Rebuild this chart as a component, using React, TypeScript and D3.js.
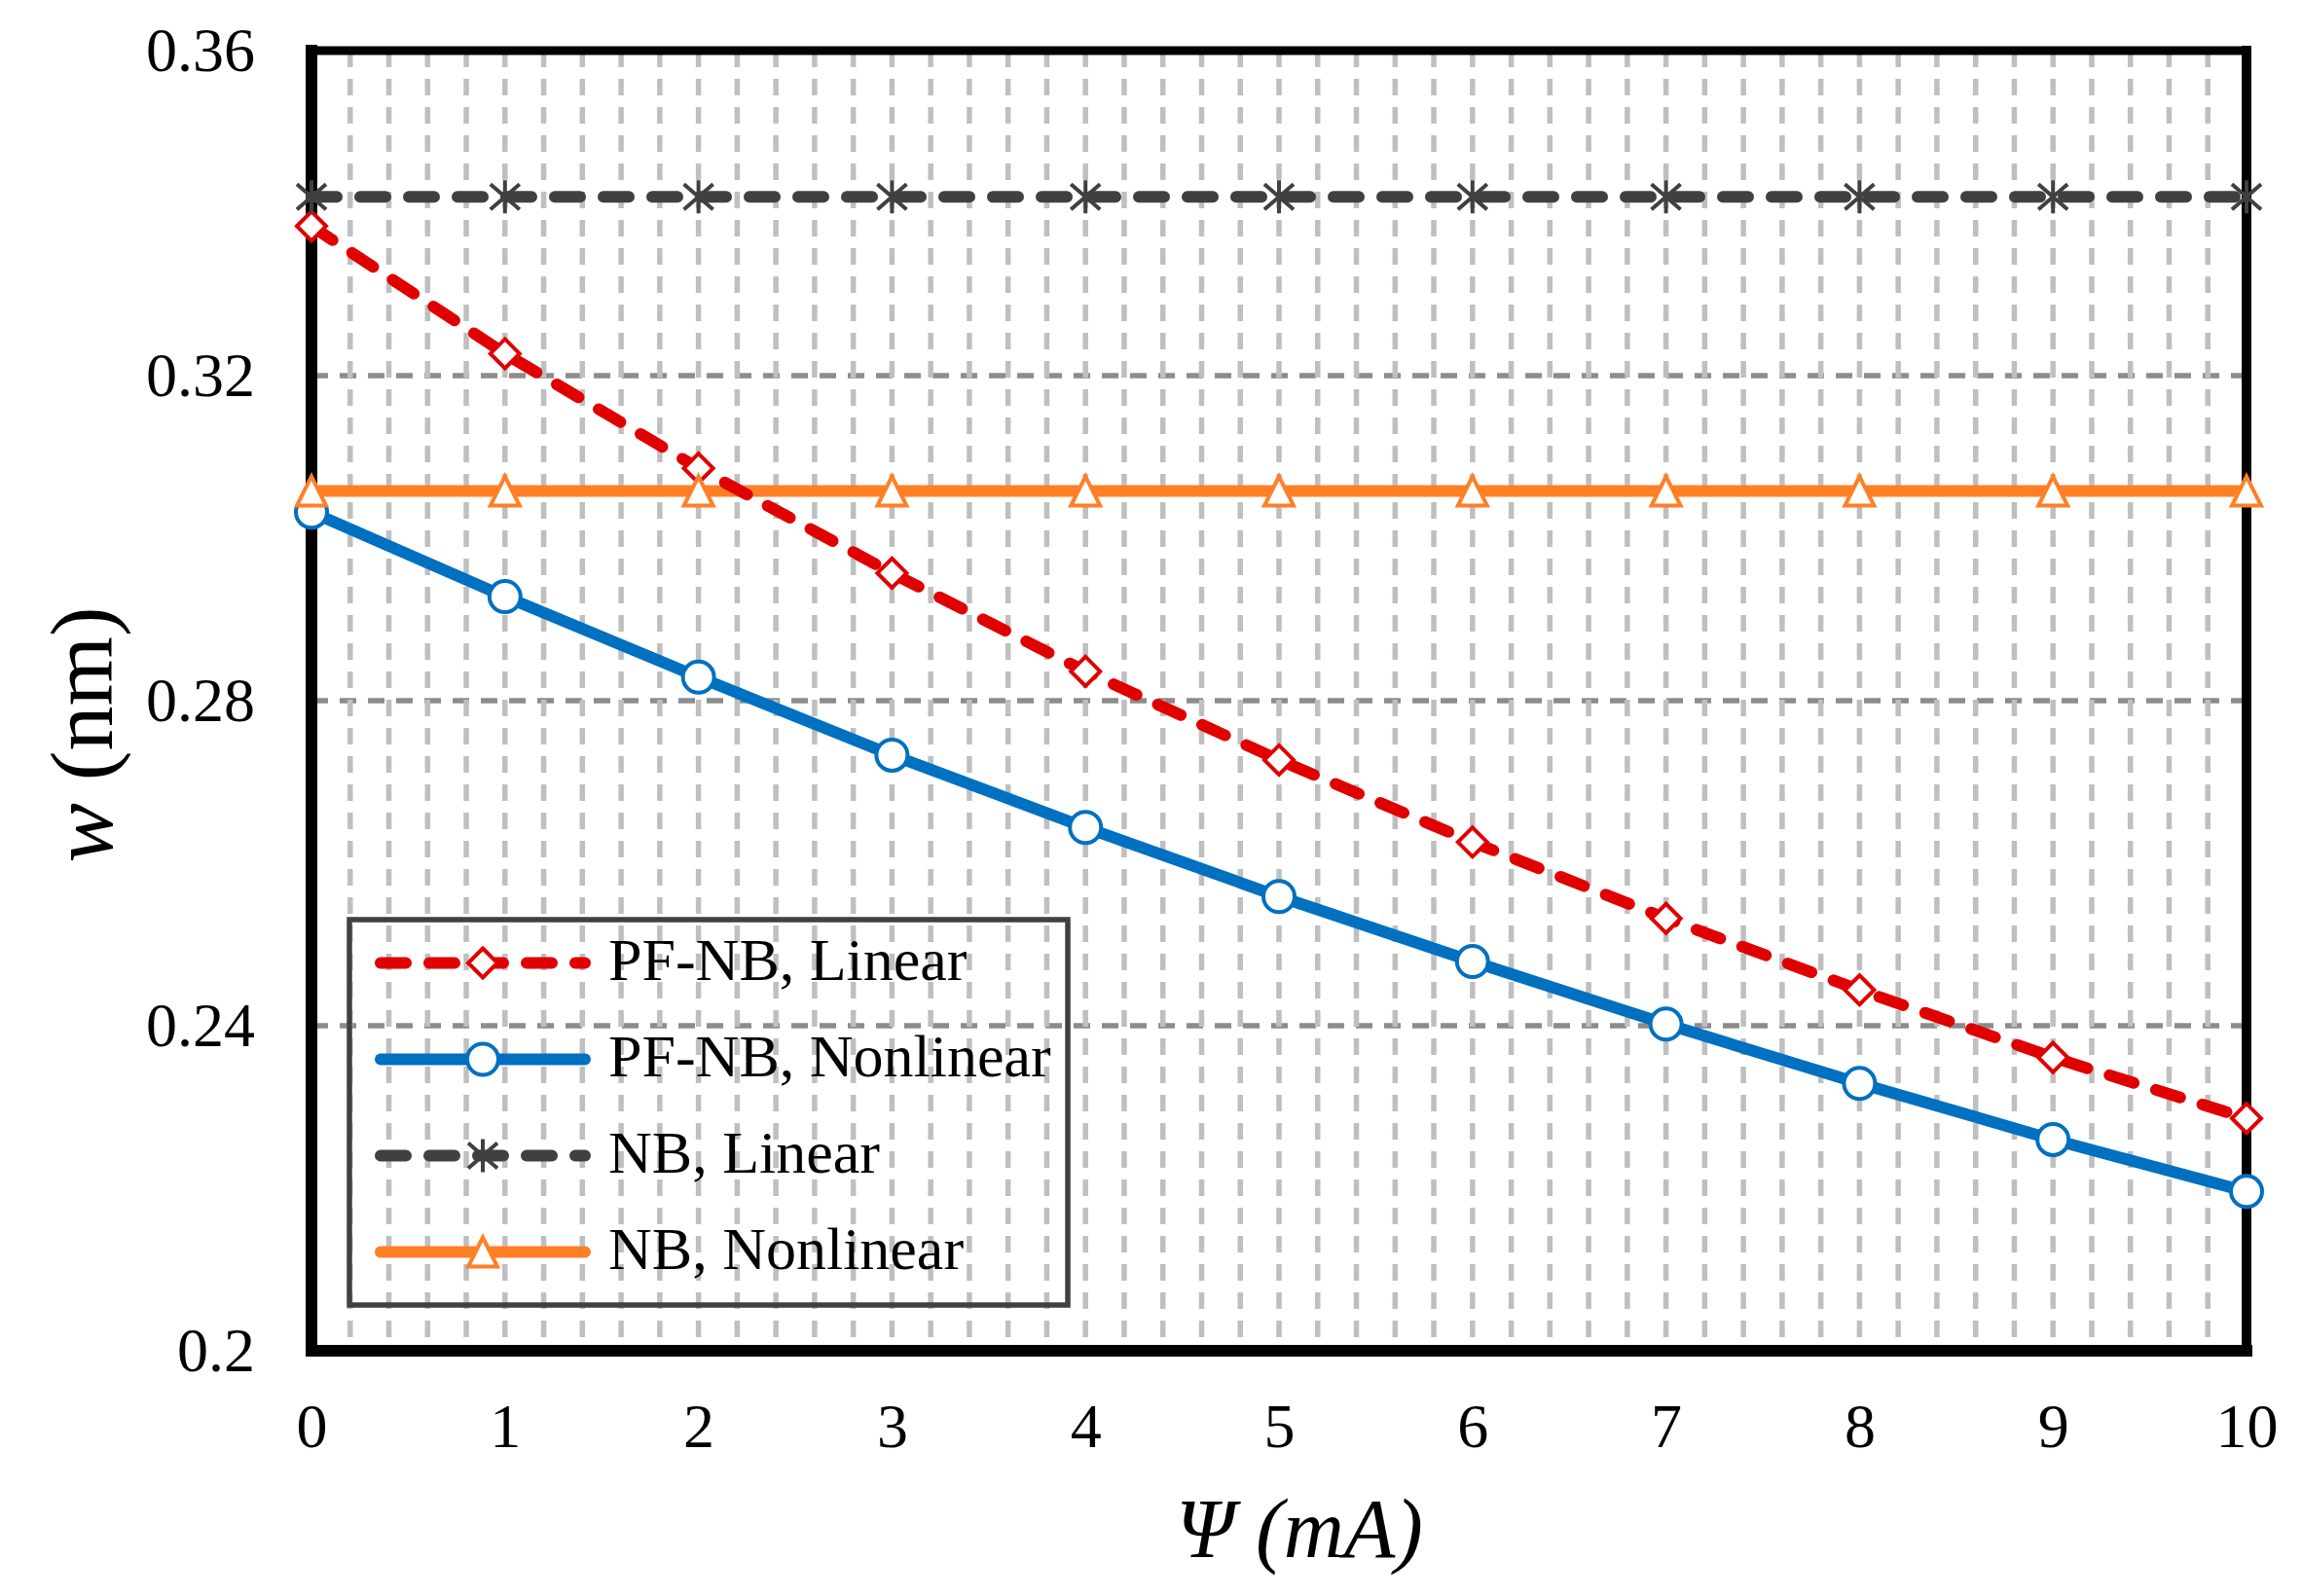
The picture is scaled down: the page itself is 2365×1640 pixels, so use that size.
import { useEffect, useRef } from 'react';
import * as d3 from 'd3';

// Chart data
const psiValues = [0, 1, 2, 3, 4, 5, 6, 7, 8, 9, 10];
const pfnbLinear = [0.3384, 0.3227, 0.3086, 0.2957, 0.2836, 0.2727, 0.2626, 0.2532, 0.2444, 0.2361, 0.2286];
const pfnbNonlinear = [0.3032, 0.2928, 0.2829, 0.2733, 0.2644, 0.2559, 0.2479, 0.2402, 0.2329, 0.226, 0.2196];
const nbLinear = [0.342, 0.342, 0.342, 0.342, 0.342, 0.342, 0.342, 0.342, 0.342, 0.342, 0.342];
const nbNonlinear = [0.3058, 0.3058, 0.3058, 0.3058, 0.3058, 0.3058, 0.3058, 0.3058, 0.3058, 0.3058, 0.3058];

const xTicks = [0, 1, 2, 3, 4, 5, 6, 7, 8, 9, 10];
const yTicks = [0.2, 0.24, 0.28, 0.32, 0.36];
const yTickLabels = ['0.2', '0.24', '0.28', '0.32', '0.36'];
const yGridValues = [0.24, 0.28, 0.32];
const xMinorStep = 0.2;

const seriesNames = ['PF-NB, Linear', 'PF-NB, Nonlinear', 'NB, Linear', 'NB, Nonlinear'];

const WIDTH = 2365;
const HEIGHT = 1640;
const FONT = '"Liberation Serif", "Times New Roman", serif';

const markerPaths: Record<string, string> = {
  diamond: 'M0,-15L15,0L0,15L-15,0Z',
  triangle: 'M0,-15L15,15L-15,15Z',
  asterisk: 'M0,-17V17M-15,-13L15,13M-15,13L15,-13',
};

export default function App() {
  const svgRef = useRef<SVGSVGElement>(null);

  useEffect(() => {
    if (!svgRef.current) return;
    const svg = d3.select(svgRef.current);
    svg.selectAll('*').remove();

    const plot = { left: 320, right: 2308, top: 52, bottom: 1388 };

    const x = d3.scaleLinear().domain([0, 10]).range([plot.left, plot.right]);
    const y = d3.scaleLinear().domain([0.2, 0.36]).range([plot.bottom, plot.top]);

    svg.append('rect').attr('width', WIDTH).attr('height', HEIGHT).attr('fill', '#ffffff');

    // Horizontal gridlines (major)
    svg
      .append('g')
      .selectAll('line')
      .data(yGridValues)
      .enter()
      .append('line')
      .attr('x1', plot.left)
      .attr('x2', plot.right)
      .attr('y1', (d) => y(d))
      .attr('y2', (d) => y(d))
      .attr('stroke', '#8c8c8c')
      .attr('stroke-width', 5.5)
      .attr('stroke-dasharray', '17 12');

    // Vertical gridlines (minor, every 0.2)
    const xMinor = d3.range(1, 50).map((i) => i * xMinorStep);
    svg
      .append('g')
      .selectAll('line')
      .data(xMinor)
      .enter()
      .append('line')
      .attr('x1', (d) => x(d))
      .attr('x2', (d) => x(d))
      .attr('y1', plot.top)
      .attr('y2', plot.bottom)
      .attr('stroke', '#bfbfbf')
      .attr('stroke-width', 5.5)
      .attr('stroke-dasharray', '17 12');

    // Frame
    const frame = svg.append('g').attr('stroke', '#000000').attr('stroke-linecap', 'square');
    frame.append('line').attr('x1', plot.left).attr('x2', plot.right).attr('y1', plot.top).attr('y2', plot.top).attr('stroke-width', 9);
    frame.append('line').attr('x1', plot.right).attr('x2', plot.right).attr('y1', plot.top).attr('y2', plot.bottom).attr('stroke-width', 10);
    frame.append('line').attr('x1', plot.left).attr('x2', plot.right).attr('y1', plot.bottom).attr('y2', plot.bottom).attr('stroke-width', 12);
    frame.append('line').attr('x1', plot.left).attr('x2', plot.left).attr('y1', plot.top).attr('y2', plot.bottom).attr('stroke-width', 12);

    // Axes
    const xAxis = svg
      .append('g')
      .attr('transform', `translate(0,${plot.bottom})`)
      .call(d3.axisBottom(x).tickValues(xTicks).tickSize(0).tickPadding(54).tickFormat((d) => String(d)));
    xAxis.select('.domain').remove();
    xAxis.selectAll('text').attr('fill', '#000').attr('font-size', 64).attr('font-family', FONT);

    const yAxis = svg
      .append('g')
      .attr('transform', `translate(${plot.left},0)`)
      .call(
        d3
          .axisLeft(y)
          .tickValues(yTicks)
          .tickSize(0)
          .tickPadding(58)
          .tickFormat((d, i) => yTickLabels[i]),
      );
    yAxis.select('.domain').remove();
    yAxis.selectAll('text').attr('fill', '#000').attr('font-size', 64).attr('font-family', FONT);

    // Axis titles
    const xTitle = svg
      .append('text')
      .attr('x', 1335)
      .attr('y', 1600)
      .attr('text-anchor', 'middle')
      .attr('font-family', FONT)
      .attr('font-size', 86)
      .attr('font-style', 'italic');
    xTitle.text('\u03A8 (mA)');

    const yTitle = svg
      .append('text')
      .attr('transform', 'translate(115,755) rotate(-90)')
      .attr('text-anchor', 'middle')
      .attr('font-family', FONT)
      .attr('font-size', 92);
    yTitle.append('tspan').attr('font-style', 'italic').text('w');
    yTitle.append('tspan').text(' (nm)');

    // Series
    const series = [
      { name: seriesNames[0], values: pfnbLinear, color: '#e00000', dash: '26 24', marker: 'diamond' },
      { name: seriesNames[1], values: pfnbNonlinear, color: '#0070c0', dash: null, marker: 'circle' },
      { name: seriesNames[2], values: nbLinear, color: '#404040', dash: '26 24', marker: 'asterisk' },
      { name: seriesNames[3], values: nbNonlinear, color: '#ff7f27', dash: null, marker: 'triangle' },
    ];

    const line = d3
      .line<number>()
      .x((_, i) => x(psiValues[i]))
      .y((d) => y(d));

    const drawMarker = (g: d3.Selection<SVGGElement, unknown, null, undefined>, kind: string, color: string) => {
      if (kind === 'circle') {
        g.append('circle').attr('r', 16).attr('fill', '#fff').attr('stroke', color).attr('stroke-width', 4);
      } else if (kind === 'asterisk') {
        g.append('path').attr('d', markerPaths.asterisk).attr('fill', 'none').attr('stroke', color).attr('stroke-width', 4);
      } else {
        g.append('path').attr('d', markerPaths[kind]).attr('fill', '#fff').attr('stroke', color).attr('stroke-width', 4);
      }
    };

    const lineOrder = [3, 1, 2, 0];
    lineOrder.forEach((si) => {
      const s = series[si];
      svg
        .append('path')
        .datum(s.values)
        .attr('d', line)
        .attr('fill', 'none')
        .attr('stroke', s.color)
        .attr('stroke-width', 12)
        .attr('stroke-linecap', 'round')
        .attr('stroke-linejoin', 'round')
        .attr('stroke-dasharray', s.dash);
    });

    series.forEach((s) => {
      s.values.forEach((v, i) => {
        const g = svg.append('g').attr('transform', `translate(${x(psiValues[i])},${y(v)})`);
        drawMarker(g as any, s.marker, s.color);
      });
    });

    // Legend
    const legend = svg.append('g');
    legend
      .append('rect')
      .attr('x', 359)
      .attr('y', 945)
      .attr('width', 738)
      .attr('height', 396)
      .attr('fill', 'none')
      .attr('stroke', '#404040')
      .attr('stroke-width', 5.5);

    const rowY = d3.scaleBand().domain(seriesNames).range([945, 1341]).paddingOuter(0);
    series.forEach((s) => {
      const cy = (rowY(s.name) || 0) + rowY.bandwidth() / 2 - 5;
      legend
        .append('line')
        .attr('x1', 391)
        .attr('x2', 601)
        .attr('y1', cy)
        .attr('y2', cy)
        .attr('stroke', s.color)
        .attr('stroke-width', 12)
        .attr('stroke-linecap', 'round')
        .attr('stroke-dasharray', s.dash);
      const g = legend.append('g').attr('transform', `translate(496,${cy})`);
      drawMarker(g as any, s.marker, s.color);
      legend
        .append('text')
        .attr('x', 625)
        .attr('y', cy + 17)
        .attr('font-family', FONT)
        .attr('font-size', 62)
        .attr('fill', '#000')
        .text(s.name);
    });
  }, []);

  return (
    <svg
      ref={svgRef}
      width={WIDTH}
      height={HEIGHT}
      style={{ position: 'absolute', left: 0, top: 0, display: 'block' }}
    />
  );
}
